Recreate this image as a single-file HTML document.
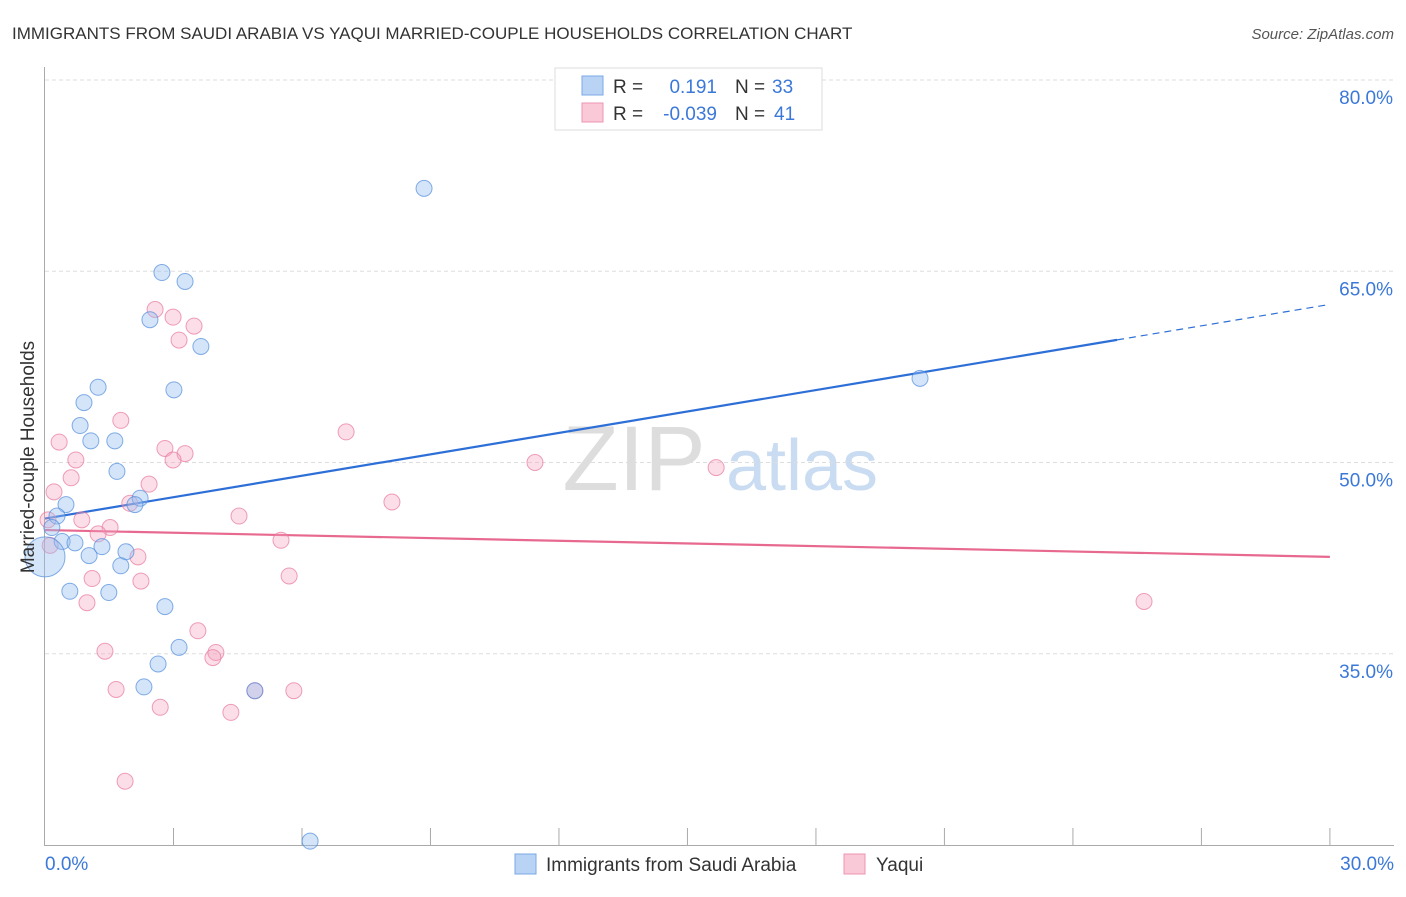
<!DOCTYPE html>
<html><head><meta charset="utf-8"><style>
body{margin:0;background:#fff;font-family:"Liberation Sans",sans-serif;}
svg text{font-family:"Liberation Sans",sans-serif;}
</style></head><body>
<svg id="chart" width="1406" height="892" viewBox="0 0 1406 892" xmlns="http://www.w3.org/2000/svg">
<text x="12" y="39" font-size="17" fill="#333">IMMIGRANTS FROM SAUDI ARABIA VS YAQUI MARRIED-COUPLE HOUSEHOLDS CORRELATION CHART</text>
<text x="1394" y="39" font-size="15" fill="#555" font-style="italic" text-anchor="end">Source: ZipAtlas.com</text>
<g><text x="634" y="490" font-size="92" fill="#ddd" font-family="Liberation Serif,serif" text-anchor="middle">ZIP</text><text x="802" y="490" font-size="72" fill="#c9dcf2" text-anchor="middle">atlas</text></g>
<g id="grid"></g><g id="axes"></g><g id="trend"></g><g id="pts"></g>
<text transform="translate(34,457) rotate(-90)" font-size="19" fill="#333" text-anchor="middle">Married-couple Households</text>
<g>
<rect x="555" y="68" width="267" height="62" fill="#fff" stroke="#ddd"/>
<rect x="582" y="76" width="21" height="19" fill="#b9d3f5" stroke="#7aa8e6"/>
<text x="613" y="93" font-size="19" fill="#333">R = </text><text x="717" y="93" font-size="19" fill="#3b78d8" text-anchor="end">0.191</text>
<text x="735" y="93" font-size="19" fill="#333">N = </text><text x="772" y="93" font-size="19" fill="#3b78d8">33</text>
<rect x="582" y="103" width="21" height="19" fill="#f9c9d7" stroke="#ee95b0"/>
<text x="613" y="120" font-size="19" fill="#333">R = </text><text x="717" y="120" font-size="19" fill="#3b78d8" text-anchor="end">-0.039</text>
<text x="735" y="120" font-size="19" fill="#333">N = </text><text x="774" y="120" font-size="19" fill="#3b78d8">41</text>
</g>
<g>
<rect x="515" y="854" width="21" height="20" fill="#b9d3f5" stroke="#7aa8e6"/>
<text x="546" y="871" font-size="19" fill="#333">Immigrants from Saudi Arabia</text>
<rect x="844" y="854" width="21" height="20" fill="#f9c9d7" stroke="#ee95b0"/>
<text x="876" y="871" font-size="19" fill="#333">Yaqui</text>
</g>
</svg>
<script>
const yTicks=[80,65,50,35];
const xTickLabels=["0.0%","30.0%"];
const blueX=[8.85,2.73,3.27,2.45,3.64,1.24,3.01,0.91,0.82,1.07,1.63,1.68,2.22,2.10,0.49,0.28,0.16,0.40,0.70,1.03,1.33,1.89,1.77,0.58,1.49,2.80,3.13,2.64,2.31,4.90,6.19,20.43,0];
const blueY=[71.5,64.9,64.2,61.2,59.1,55.9,55.7,54.7,52.9,51.7,51.7,49.3,47.2,46.7,46.7,45.8,44.9,43.8,43.7,42.7,43.4,43.0,41.9,39.9,39.8,38.7,35.5,34.2,32.4,32.1,20.3,56.6,42.6];
const blueR=[8,8,8,8,8,8,8,8,8,8,8,8,8,8,8,8,8,8,8,8,8,8,8,8,8,8,8,8,8,8,8,8,20];
const pinkX=[2.57,2.99,3.48,3.13,1.77,0.33,7.03,2.80,3.27,2.99,0.72,0.61,2.43,11.44,15.67,0.21,8.10,1.98,4.53,0.86,1.52,1.24,5.51,2.17,5.70,1.10,2.24,0.98,25.66,3.57,1.40,3.99,3.92,1.66,5.81,4.90,2.69,4.34,1.87,0.12,0.07];
const pinkY=[62.0,61.4,60.7,59.6,53.3,51.6,52.4,51.1,50.7,50.2,50.2,48.8,48.3,50.0,49.6,47.7,46.9,46.8,45.8,45.5,44.9,44.4,43.9,42.6,41.1,40.9,40.7,39.0,39.1,36.8,35.2,35.1,34.7,32.2,32.1,32.1,30.8,30.4,25.0,43.5,45.5];
const blueFit=[45.6,0.56];   // intercept, slope
const pinkFit=[44.7,-0.07];
const blueSolidEnd=25.03, xMax=30;
const NS="http://www.w3.org/2000/svg";
const X=v=>45+v*42.83, Y=v=>80+(80-v)*12.75;
function mk(p,t,a){const e=document.createElementNS(NS,t);for(const k in a)e.setAttribute(k,a[k]);document.getElementById(p).appendChild(e);return e;}
yTicks.forEach(t=>{
 const l=mk('grid','line',{x1:45,x2:1394,y1:Y(t),y2:Y(t),stroke:'#ddd','stroke-dasharray':'4,3'});
 
 
 const tx=mk('grid','text',{x:1393,y:Y(t)+24,'font-size':19,fill:'#3b78d8','text-anchor':'end'});tx.textContent=t.toFixed(1)+'%';
 
 
});
const ya=mk('axes','line',{x1:44.5,x2:44.5,y1:67,y2:845,stroke:'#aaa'});


const xa=mk('axes','line',{x1:44,x2:1394,y1:845.5,y2:845.5,stroke:'#aaa'});


for(let i=1;i<=10;i++){const t=mk('axes','line',{x1:X(i*3),x2:X(i*3),y1:828,y2:845,stroke:'#aaa'});
 
 }
[[0,'start',45],[30,'end',1394]].forEach((d,i)=>{const t=mk('axes','text',{x:d[2],y:870,'font-size':19,fill:'#3b78d8','text-anchor':d[1]});t.textContent=xTickLabels[i];
 
 });
const fy=(f,x)=>f[0]+f[1]*x;
let l1=mk('trend','line',{x1:X(0),y1:Y(fy(blueFit,0)),x2:X(blueSolidEnd),y2:Y(fy(blueFit,blueSolidEnd)),stroke:'#2d6fd6','stroke-width':2.2});


let l2=mk('trend','line',{x1:X(blueSolidEnd),y1:Y(fy(blueFit,blueSolidEnd)),x2:X(xMax),y2:Y(fy(blueFit,xMax)),stroke:'#2d6fd6','stroke-width':1.2,'stroke-dasharray':'7,5'});


let l3=mk('trend','line',{x1:X(0),y1:Y(fy(pinkFit,0)),x2:X(xMax),y2:Y(fy(pinkFit,xMax)),stroke:'#e8698f','stroke-width':2.2});


pinkX.forEach((x,i)=>{const c=mk('pts','circle',{cx:X(x),cy:Y(pinkY[i]),r:8,fill:'rgba(244,160,188,0.35)',stroke:'rgba(232,120,155,0.7)','stroke-width':1});
 
 });
blueX.forEach((x,i)=>{const c=mk('pts','circle',{cx:X(x),cy:Y(blueY[i]),r:blueR[i],fill:'rgba(150,190,240,0.4)',stroke:'rgba(80,140,220,0.7)','stroke-width':1});
 
 });
</script>
</body></html>
